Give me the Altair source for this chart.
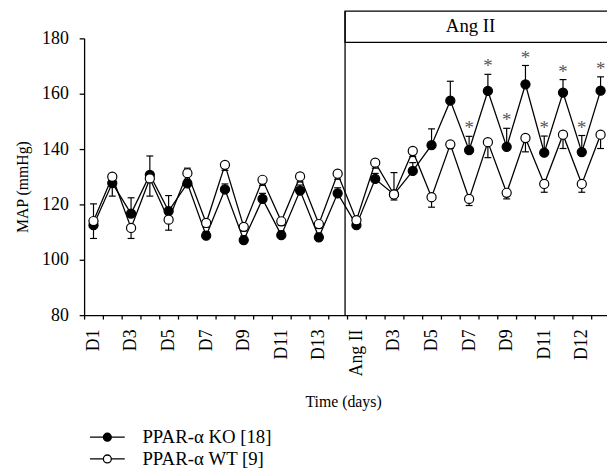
import json
import altair as alt
import pandas as pd

# ---------------- data ----------------
day_labels = ["D1", "", "D3", "", "D5", "", "D7", "", "D9", "", "D11", "", "D13", "",
              "Ang II", "", "D3", "", "D5", "", "D7", "", "D9", "", "D11", "", "D12", ""]

ko_mean = [112.5, 127.7, 116.7, 130.7, 117.6, 127.6, 108.7, 125.4, 107.1, 122.0, 108.9, 125.0, 108.1, 124.0,
           112.5, 129.2, 123.6, 132.1, 141.4, 157.5, 139.6, 161.0, 140.8, 163.4, 138.7, 160.4, 138.9, 161.1]
ko_sem = [7.7, 2.0, 5.7, 6.8, 5.6, 5.5, 1.5, 2.0, 1.5, 2.0, 1.5, 2.0, 1.5, 2.0,
          1.5, 2.0, 7.9, 3.0, 5.9, 7.0, 5.0, 6.0, 6.7, 6.8, 6.0, 4.7, 6.0, 5.0]
wt_mean = [114.0, 130.0, 111.5, 129.4, 114.5, 131.3, 113.3, 134.3, 111.9, 128.9, 113.9, 130.1, 112.9, 131.1,
           114.3, 135.1, 123.6, 139.3, 122.6, 141.7, 122.0, 142.5, 124.2, 144.0, 127.4, 145.2, 127.4, 145.2]
wt_sem = [6.3, 7.0, 3.8, 6.4, 3.8, 4.0, 1.5, 2.0, 1.5, 2.0, 1.5, 2.0, 1.5, 2.0,
          1.5, 2.0, 2.0, 2.0, 3.6, 1.5, 2.4, 5.6, 2.2, 5.0, 3.0, 5.0, 3.0, 5.0]

star_days = [20, 21, 22, 23, 24, 25, 26, 27]
series_names = ["PPAR-α KO [18]", "PPAR-α WT [9]"]
ang_start_day = 14

# ---------------- tables ----------------
days = list(range(len(day_labels)))
rows = []
for i in days:
    rows.append({"day": i, "series": series_names[0], "mean": ko_mean[i],
                 "lo": ko_mean[i], "hi": ko_mean[i] + ko_sem[i], "cap": ko_mean[i] + ko_sem[i]})
    rows.append({"day": i, "series": series_names[1], "mean": wt_mean[i],
                 "lo": wt_mean[i] - wt_sem[i], "hi": wt_mean[i], "cap": wt_mean[i] - wt_sem[i]})
df = pd.DataFrame(rows)
stars = pd.DataFrame({"day": star_days, "top": [ko_mean[d] + ko_sem[d] for d in star_days]})
ang = pd.DataFrame({"day": [ang_start_day], "label": ["Ang II"]})

FONT = "Liberation Serif"
W = 529
BAND_RANGE = 532
H = 280

xscale = alt.Scale(type="band", domain=days, range=[0, BAND_RANGE], paddingInner=0, paddingOuter=0)
label_expr = json.dumps(day_labels) + "[datum.value]"
xaxis = alt.Axis(title="Time (days)", tickBand="extent", tickSize=4, labelAngle=270,
                 labelExpr=label_expr, labelOverlap=False, labelPadding=10,
                 titlePadding=18, titleX=262, labelFontSize=18, titleFontSize=16)
X = alt.X("day:O", scale=xscale, axis=xaxis)

yscale = alt.Scale(domain=[80, 180], nice=False, zero=False)
yaxis = alt.Axis(title="MAP (mmHg)", values=[80, 100, 120, 140, 160, 180], tickSize=5,
                 labelPadding=11, titlePadding=11, titleY=150, grid=False,
                 labelFontSize=18, titleFontSize=16)

legend_path = "M-4.4,0L-1,0M1,0L4.4,0M1,0A1,1,0,1,1,-1,0A1,1,0,1,1,1,0Z"

base = alt.Chart(df)

lines = base.mark_line(color="black", strokeWidth=1.3).encode(
    x=X, y=alt.Y("mean:Q", scale=yscale, axis=yaxis), detail="series:N")

err = base.mark_rule(color="black", strokeWidth=1.2).encode(
    x=X, y=alt.Y("lo:Q", scale=yscale), y2="hi:Q")

caps = base.mark_tick(color="black", size=7, thickness=1.2, opacity=1).encode(
    x=X, y=alt.Y("cap:Q", scale=yscale))

points = base.mark_circle(size=85, stroke="black", strokeWidth=1.2, opacity=1).encode(
    x=X, y=alt.Y("mean:Q", scale=yscale),
    fill=alt.Fill("series:N",
                  scale=alt.Scale(domain=series_names, range=["black", "white"]),
                  legend=alt.Legend(title=None, orient="none", legendX=14, legendY=394,
                                    symbolType=legend_path, symbolSize=64,
                                    symbolStrokeColor="black", symbolStrokeWidth=1.3,
                                    labelFont=FONT, labelFontSize=19, labelOffset=26,
                                    rowPadding=2, padding=0)))

star_marks = alt.Chart(stars).mark_text(text="*", font=FONT, fontSize=19, color="#555555",
                                        baseline="alphabetic", dy=-2).encode(
    x=X, y=alt.Y("top:Q", scale=yscale))

vline = alt.Chart(ang).mark_rule(color="black", strokeWidth=1.3, xOffset=-2).encode(
    x=alt.X("day:O", scale=xscale, axis=xaxis, bandPosition=0),
    y=alt.value(-27.5), y2=alt.value(H))

box = alt.Chart(ang).mark_rect(fill="white", stroke="black", strokeWidth=1.3, xOffset=-2).encode(
    x=alt.X("day:O", scale=xscale, axis=xaxis, bandPosition=0),
    x2=alt.value(BAND_RANGE + 10),
    y=alt.value(-27.5), y2=alt.value(4))

ang_text = alt.Chart(ang).mark_text(font=FONT, fontSize=19, color="black", baseline="middle").encode(
    x=alt.value(391), y=alt.value(-12), text="label:N")

chart = alt.layer(box, vline, ang_text, lines, err, caps, points, star_marks).properties(
    width=W, height=H,
    autosize=alt.AutoSizeParams(type="none"),
    padding={"left": 77, "top": 28, "right": 0, "bottom": 157},
).configure_view(stroke=None).configure_axis(
    labelFont=FONT, titleFont=FONT, labelColor="black", titleColor="black",
    domainColor="black", tickColor="black", domainWidth=1.3, tickWidth=1.3,
    titleFontWeight="normal",
).configure_text(font=FONT)

chart.save("out.html", embed_options={"renderer": "svg", "actions": False})
